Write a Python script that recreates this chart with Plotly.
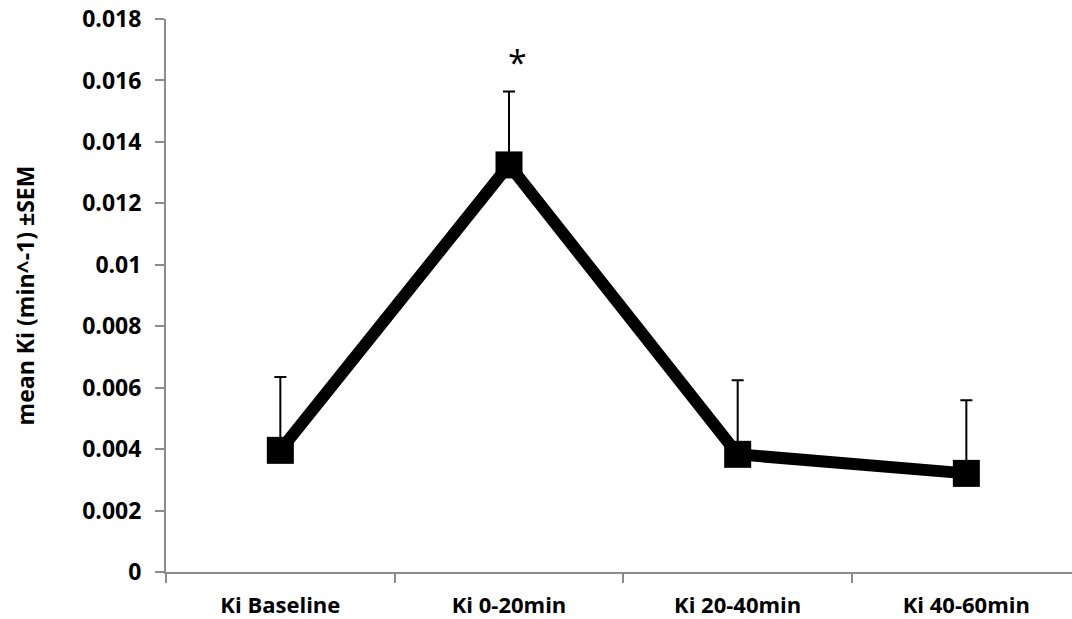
import plotly.graph_objects as go

categories = ["Ki Baseline", "Ki 0-20min", "Ki 20-40min", "Ki 40-60min"]
mean_ki = [0.00396, 0.01325, 0.00383, 0.00321]
sem_plus = [0.00239, 0.00239, 0.00241, 0.00238]
y_ticks = [0, 0.002, 0.004, 0.006, 0.008, 0.01, 0.012, 0.014, 0.016, 0.018]
y_tick_labels = ["0", "0.002", "0.004", "0.006", "0.008", "0.01", "0.012", "0.014", "0.016", "0.018"]
star_category = "Ki 0-20min"
star_value = 0.0166

FONT = "Open Sans"

fig = go.Figure()
fig.add_trace(go.Scatter(
    x=categories, y=mean_ki,
    mode="lines+markers",
    line=dict(color="black", width=12),
    marker=dict(symbol="square", size=27, color="black"),
    error_y=dict(type="data", symmetric=False, array=sem_plus,
                 arrayminus=[0] * len(sem_plus),
                 color="black", thickness=2, width=6),
    showlegend=False,
    cliponaxis=False,
))

fig.add_annotation(x=star_category, y=star_value, text="*", showarrow=False,
                   xshift=8, font=dict(family=FONT, size=34, color="black"))

fig.update_layout(
    width=1072, height=619,
    margin=dict(l=166, r=0, t=19, b=47),
    plot_bgcolor="white", paper_bgcolor="white",
    font=dict(family=FONT, color="black"),
    xaxis=dict(
        type="category", categoryorder="array", categoryarray=categories,
        range=[-0.5, 3.462],
        showline=True, linecolor="#8c8c8c", linewidth=2,
        ticks="outside", tickson="boundaries", ticklen=9, tickcolor="#8c8c8c", tickwidth=2,
        showgrid=False, zeroline=False,
        tickfont=dict(family=FONT, size=22, color="black", weight="bold"),
        ticklabelstandoff=13,
        ticklabeloverflow="allow",
        automargin=False,
    ),
    yaxis=dict(
        range=[0, 0.018],
        tickvals=y_ticks, ticktext=["<b>%s</b>" % t for t in y_tick_labels],
        showline=True, linecolor="#8c8c8c", linewidth=2,
        ticks="outside", ticklen=9, tickcolor="#8c8c8c", tickwidth=2,
        showgrid=False, zeroline=False,
        tickfont=dict(family=FONT, size=23, color="black"),
        ticklabelstandoff=9,
        ticklabeloverflow="allow",
        automargin=False,
        title=dict(text="<b>mean Ki (min^-1) ±SEM</b>",
                   font=dict(family=FONT, size=23, color="black"), standoff=41),
    ),
)

fig.write_html("out.html", config={"displayModeBar": False},
               post_script="document.body.style.margin='0';")
